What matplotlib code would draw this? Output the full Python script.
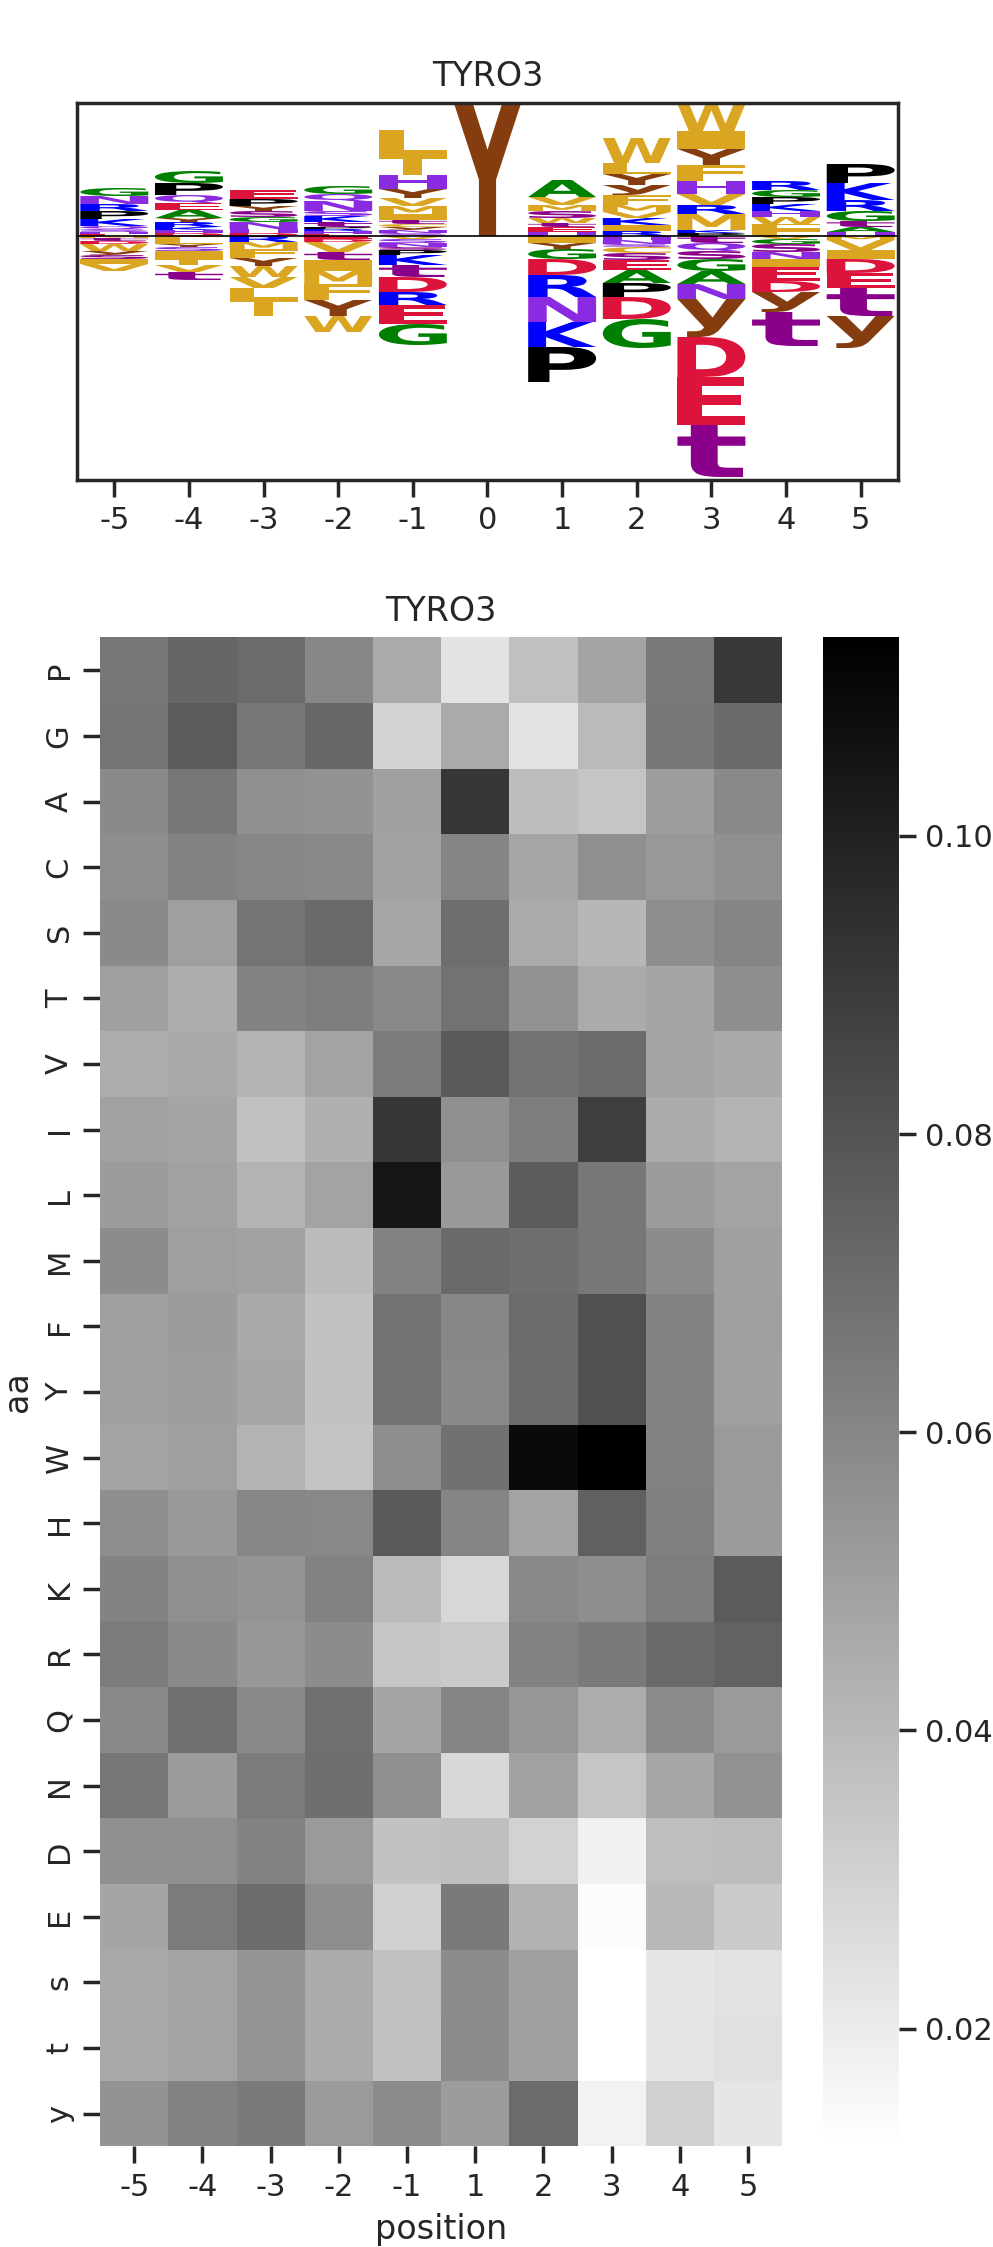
import matplotlib
matplotlib.use('Agg')
import matplotlib.pyplot as plt
import matplotlib.transforms as mtransforms
from matplotlib.textpath import TextPath
from matplotlib.patches import PathPatch
from matplotlib.font_manager import FontProperties
import pandas as pd
import seaborn as sns

kinase = 'TYRO3'

# --- sequence logo: letter stacks per position (heights, stacked away from baseline)
logo_positions = [-5, -4, -3, -2, -1, 0, 1, 2, 3, 4, 5]

up_letters = ["EHSQKPRNG", "DHKRYAEQPG", "DHNGsYPE", "EHRPtKSNQG",
              "SNyCtIMVYHTL", "Y", "HEtWsMVA", "RIKVMFyYLW",
              "PKMRVHFYIW", "LIFWHKPGR", "HAtGRKP"]
up_heights = [
    [.02, .02, .03, .03, .07, .08, .07, .08, .08],
    [.03, .03, .03, .05, .04, .08, .07, .08, .12, .12],
    [.03, .04, .07, .05, .06, .05, .07, .09],
    [.02, .03, .02, .02, .05, .06, .05, .10, .07, .08],
    [.03, .03, .03, .03, .04, .06, .08, .08, .09, .14, .20, .25],
    [1.34],
    [.04, .05, .04, .05, .07, .06, .08, .17],
    [.05, .06, .07, .06, .07, .10, .10, .11, .11, .25],
    [.03, .03, .16, .09, .11, .13, .16, .16, .18, .27],
    [.04, .04, .04, .07, .06, .07, .07, .07, .09],
    [.04, .05, .06, .10, .11, .17, .19],
]

down_letters = ["MtDWysIV", "FLYSITVt", "RMFYWVLT", "EDVtIMFYW",
                "VSNsPKtDREG", "", "IYGDRNKP", "HNSCsEAPDG",
                "tQsGANyDEt", "VGsNIEDyt", "MVIDEty"]
down_heights = [
    [.02, .03, .03, .07, .04, .04, .05, .07],
    [.04, .04, .03, .04, .08, .06, .07, .08],
    [.06, .07, .09, .08, .11, .11, .11, .17],
    [.03, .03, .10, .08, .11, .13, .16, .16, .16],
    [.03, .04, .04, .03, .05, .10, .12, .15, .13, .19, .21],
    [],
    [.07, .06, .10, .16, .22, .25, .25, .35],
    [.04, .04, .03, .06, .07, .10, .13, .14, .22, .29],
    [.07, .08, .08, .12, .13, .15, .38, .40, .48, .52],
    [.03, .05, .08, .07, .08, .14, .11, .20, .34],
    [.04, .10, .09, .14, .15, .28, .32],
]

letter_colors = {
    'G': '#008000', 'A': '#008000', 'P': '#000000',
    'R': '#0000FF', 'K': '#0000FF',
    'N': '#8A2BE2', 'Q': '#8A2BE2', 'H': '#8A2BE2', 'S': '#8A2BE2',
    'D': '#DC143C', 'E': '#DC143C',
    'T': '#DAA520', 'L': '#DAA520', 'I': '#DAA520', 'V': '#DAA520',
    'M': '#DAA520', 'F': '#DAA520', 'W': '#DAA520', 'C': '#DAA520',
    'Y': '#853D0F', 'y': '#853D0F',
    't': '#8B008B', 's': '#8B008B',
}

# --- heatmap: amino acid frequency per position
aa = ['P', 'G', 'A', 'C', 'S', 'T', 'V', 'I', 'L', 'M', 'F', 'Y', 'W',
      'H', 'K', 'R', 'Q', 'N', 'D', 'E', 's', 't', 'y']
positions = [-5, -4, -3, -2, -1, 1, 2, 3, 4, 5]
freq = [
    [0.0661, 0.0728, 0.0708, 0.0597, 0.0458, 0.0232, 0.0371, 0.0482, 0.0649, 0.0911],
    [0.0673, 0.0768, 0.0661, 0.0720, 0.0291, 0.0458, 0.0232, 0.0395, 0.0661, 0.0712],
    [0.0585, 0.0661, 0.0565, 0.0549, 0.0498, 0.0919, 0.0383, 0.0351, 0.0506, 0.0589],
    [0.0569, 0.0617, 0.0601, 0.0589, 0.0490, 0.0605, 0.0474, 0.0565, 0.0530, 0.0561],
    [0.0585, 0.0502, 0.0673, 0.0712, 0.0474, 0.0696, 0.0454, 0.0407, 0.0569, 0.0605],
    [0.0502, 0.0446, 0.0613, 0.0633, 0.0589, 0.0680, 0.0553, 0.0454, 0.0478, 0.0569],
    [0.0446, 0.0462, 0.0422, 0.0486, 0.0645, 0.0776, 0.0676, 0.0708, 0.0482, 0.0462],
    [0.0494, 0.0478, 0.0367, 0.0434, 0.0915, 0.0561, 0.0633, 0.0887, 0.0454, 0.0422],
    [0.0514, 0.0490, 0.0422, 0.0486, 0.1046, 0.0526, 0.0768, 0.0657, 0.0514, 0.0486],
    [0.0577, 0.0502, 0.0494, 0.0391, 0.0613, 0.0712, 0.0692, 0.0661, 0.0577, 0.0498],
    [0.0498, 0.0514, 0.0462, 0.0363, 0.0680, 0.0597, 0.0708, 0.0815, 0.0613, 0.0502],
    [0.0498, 0.0506, 0.0474, 0.0363, 0.0680, 0.0589, 0.0708, 0.0815, 0.0613, 0.0498],
    [0.0482, 0.0502, 0.0422, 0.0355, 0.0569, 0.0684, 0.1093, 0.1133, 0.0617, 0.0522],
    [0.0569, 0.0526, 0.0601, 0.0593, 0.0776, 0.0605, 0.0486, 0.0752, 0.0625, 0.0514],
    [0.0613, 0.0565, 0.0545, 0.0617, 0.0395, 0.0283, 0.0593, 0.0569, 0.0637, 0.0772],
    [0.0645, 0.0585, 0.0534, 0.0577, 0.0347, 0.0331, 0.0617, 0.0649, 0.0712, 0.0744],
    [0.0589, 0.0688, 0.0585, 0.0688, 0.0478, 0.0609, 0.0538, 0.0450, 0.0581, 0.0522],
    [0.0665, 0.0518, 0.0645, 0.0692, 0.0565, 0.0279, 0.0490, 0.0351, 0.0470, 0.0553],
    [0.0561, 0.0565, 0.0613, 0.0522, 0.0363, 0.0375, 0.0299, 0.0180, 0.0379, 0.0387],
    [0.0478, 0.0645, 0.0704, 0.0569, 0.0307, 0.0649, 0.0426, 0.0133, 0.0399, 0.0327],
    [0.0462, 0.0486, 0.0542, 0.0454, 0.0371, 0.0577, 0.0498, 0.0121, 0.0220, 0.0236],
    [0.0462, 0.0486, 0.0542, 0.0454, 0.0363, 0.0577, 0.0498, 0.0121, 0.0220, 0.0244],
    [0.0549, 0.0617, 0.0649, 0.0522, 0.0581, 0.0514, 0.0708, 0.0176, 0.0307, 0.0220],
]

sns.set_theme(style='ticks')
plt.rcParams['axes.unicode_minus'] = False
fp = FontProperties(family='DejaVu Sans', weight='bold')


def draw_letter(ax, ch, x, y0, h, width=0.91):
    tp = TextPath((0, 0), ch, size=1, prop=fp)
    bb = tp.get_extents()
    tr = (mtransforms.Affine2D()
          .translate(-bb.x0, -bb.y0)
          .scale(width / bb.width, h / bb.height)
          .translate(x - width / 2, y0))
    patch = PathPatch(tr.transform_path(tp), facecolor=letter_colors[ch],
                      edgecolor='none', lw=0)
    ax.add_patch(patch)


fig = plt.figure(figsize=(993 / 200, 2247 / 200), dpi=200)

# logo
ax1 = fig.add_axes([0.07754, 0.78638, 0.82679, 0.16800])
for i, pos in enumerate(logo_positions):
    y = 0.0
    for ch, h in zip(up_letters[i], up_heights[i]):
        draw_letter(ax1, ch, pos, y, h)
        y += h
    y = 0.0
    for ch, h in zip(down_letters[i], down_heights[i]):
        y -= h
        draw_letter(ax1, ch, pos, y, h)
ax1.axhline(0, color='black', lw=0.6, zorder=5)
ax1.set_xlim(-5.5, 5.5)
ax1.set_ylim(-2.44, 1.335)
ax1.set_xticks(logo_positions)
ax1.set_yticks([])
ax1.set_title(kinase)

# heatmap
df = pd.DataFrame(freq, index=aa, columns=positions)
ax2 = fig.add_axes([0.10081, 0.04473, 0.68681, 0.67156])
cax = fig.add_axes([0.82880, 0.04473, 0.07654, 0.67156])
sns.heatmap(df, cmap='gray_r', ax=ax2, cbar_ax=cax)
ax2.set_title(kinase)
ax2.set_xlabel('position')
ax2.set_ylabel('aa')

fig.savefig('out.png', dpi=200)
